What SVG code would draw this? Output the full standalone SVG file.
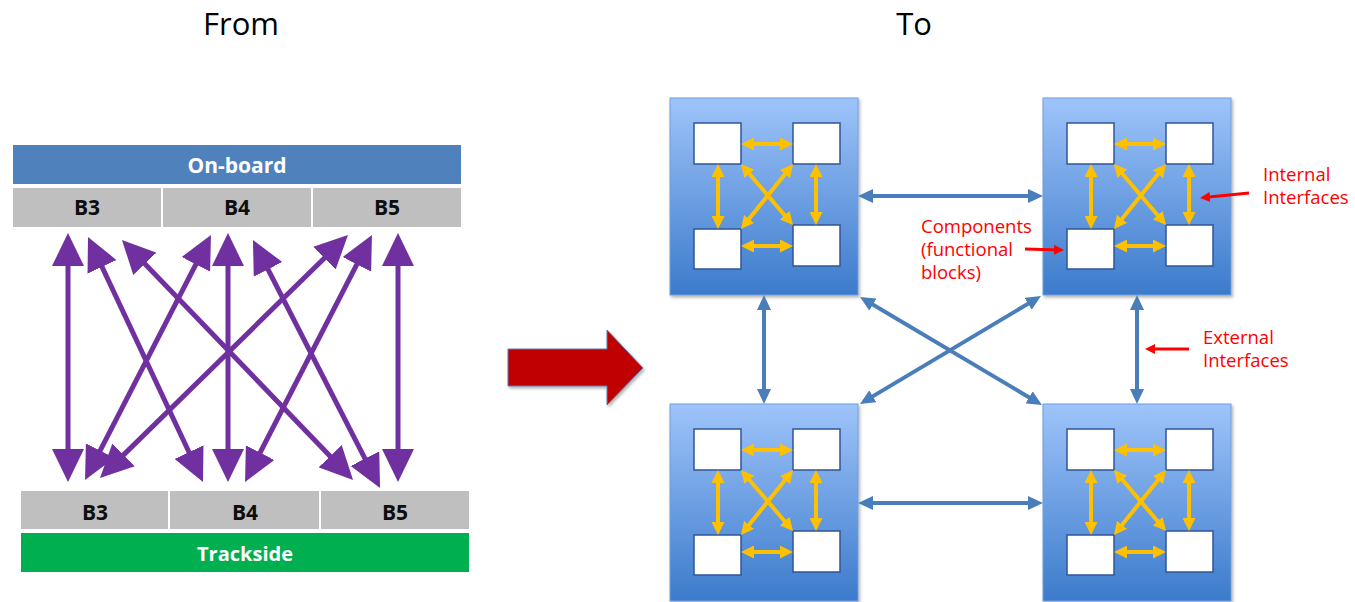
<svg xmlns="http://www.w3.org/2000/svg" width="1355" height="602" viewBox="0 0 1355 602">
  <style>
    .title { font-family: "Open Sans", "Liberation Sans", sans-serif; font-size: 31px; fill: #000; text-anchor: middle; }
    .hdr { font-family: "Open Sans", "Liberation Sans", sans-serif; font-size: 21px; font-weight: bold; fill: #fff; text-anchor: middle; }
    .cell { fill: #bfbfbf; }
    .celltxt { font-family: "Open Sans", "Liberation Sans", sans-serif; font-size: 21px; font-weight: bold; fill: #0d0d0d; text-anchor: middle; }
    .purple { stroke: #7030a0; stroke-width: 5; fill: none; marker-start: url(#pa); marker-end: url(#pa); }
    .box { fill: url(#boxgrad); stroke: #6f9edb; stroke-width: 1; filter: url(#shadow); }
    .sq { fill: #fff; stroke: #2f5597; stroke-width: 1.5; }
    .yel { stroke: #ffc000; stroke-width: 4; fill: none; marker-start: url(#ya); marker-end: url(#ya); }
    .blue { stroke: #4a7ebb; stroke-width: 4; fill: none; marker-start: url(#ba); marker-end: url(#ba); }
    .red { stroke: #ff0000; stroke-width: 3; fill: none; marker-end: url(#ra); }
    .lbl { font-family: "Open Sans", "Liberation Sans", sans-serif; font-size: 18.5px; fill: #ff0000; }
  </style>
  <defs>
    <linearGradient id="boxgrad" x1="0" y1="0" x2="0" y2="1">
      <stop offset="0" stop-color="#9ec4fa"/>
      <stop offset="1" stop-color="#3c7bcb"/>
    </linearGradient>
    <filter id="shadow" x="-10%" y="-10%" width="130%" height="130%">
      <feDropShadow dx="1.5" dy="2" stdDeviation="1.5" flood-color="#000" flood-opacity="0.3"/>
    </filter>
    <marker id="pa" viewBox="0 0 33 32" markerWidth="33" markerHeight="32" refX="25" refY="16" orient="auto-start-reverse" markerUnits="userSpaceOnUse">
      <path d="M0,0 L33,16 L0,32 Z" fill="#7030a0"/>
    </marker>
    <marker id="ba" viewBox="0 0 15 14" markerWidth="15" markerHeight="14" refX="10" refY="7" orient="auto-start-reverse" markerUnits="userSpaceOnUse">
      <path d="M0,0 L15,7 L0,14 Z" fill="#4a7ebb"/>
    </marker>
    <marker id="ya" viewBox="0 0 13 13" markerWidth="13" markerHeight="13" refX="8" refY="6.5" orient="auto-start-reverse" markerUnits="userSpaceOnUse">
      <path d="M0,0 L13,6.5 L0,13 Z" fill="#ffc000"/>
    </marker>
    <marker id="ra" viewBox="0 0 10 10" markerWidth="10" markerHeight="10" refX="6" refY="5" orient="auto" markerUnits="userSpaceOnUse">
      <path d="M0,0 L10,5 L0,10 Z" fill="#ff0000"/>
    </marker>
    <g id="inner">
      <rect class="sq" x="24" y="25" width="47" height="41"/>
      <rect class="sq" x="123" y="25" width="47" height="41"/>
      <rect class="sq" x="24" y="131" width="47" height="40"/>
      <rect class="sq" x="123" y="127" width="47" height="41"/>
      <line class="yel" x1="76" y1="46" x2="118" y2="46"/>
      <line class="yel" x1="76" y1="148" x2="118" y2="148"/>
      <line class="yel" x1="48" y1="71" x2="48" y2="126"/>
      <line class="yel" x1="146" y1="71" x2="146" y2="122"/>
      <line class="yel" x1="74.2" y1="69.8" x2="119.8" y2="123.2"/>
      <line class="yel" x1="119.9" y1="69.9" x2="74.1" y2="127.1"/>
    </g>
  </defs>

  <rect width="1355" height="602" fill="#fff"/>

  <text class="title" x="241" y="35">From</text>
  <text class="title" x="914" y="35">To</text>

  <!-- Left: From -->
  <g id="onboard">
    <rect x="13" y="145" width="448" height="39" fill="#4f81bd"/>
    <text class="hdr" x="237" y="173">On-board</text>
  </g>
  <g id="top-b3"><rect class="cell" x="13" y="188" width="148" height="39"/><text class="celltxt" x="87" y="215">B3</text></g>
  <g id="top-b4"><rect class="cell" x="163" y="188" width="148" height="39"/><text class="celltxt" x="237" y="215">B4</text></g>
  <g id="top-b5"><rect class="cell" x="313" y="188" width="148" height="39"/><text class="celltxt" x="387" y="215">B5</text></g>

  <g id="bot-b3"><rect class="cell" x="21" y="491" width="147" height="38"/><text class="celltxt" x="95" y="520">B3</text></g>
  <g id="bot-b4"><rect class="cell" x="170" y="491" width="149" height="38"/><text class="celltxt" x="245" y="520">B4</text></g>
  <g id="bot-b5"><rect class="cell" x="321" y="491" width="148" height="38"/><text class="celltxt" x="395" y="520">B5</text></g>
  <g id="trackside">
    <rect x="21" y="533" width="448" height="39" fill="#00b050"/>
    <text class="hdr" x="245" y="561" style="font-size:20px">Trackside</text>
  </g>

  <g id="purple-connectors">
    <line class="purple" x1="68" y1="241" x2="68" y2="474"/>
    <line class="purple" x1="228" y1="241" x2="228" y2="474"/>
    <line class="purple" x1="398" y1="241" x2="398" y2="474"/>
    <line class="purple" x1="91.4" y1="244.2" x2="199.6" y2="474.8"/>
    <line class="purple" x1="127.5" y1="245.8" x2="347.5" y2="474.2"/>
    <line class="purple" x1="207.3" y1="242.1" x2="88.7" y2="472.9"/>
    <line class="purple" x1="342.3" y1="240.6" x2="105.7" y2="472.4"/>
    <line class="purple" x1="368.3" y1="242.1" x2="248.7" y2="474.9"/>
    <line class="purple" x1="256.6" y1="247.1" x2="376.4" y2="480.9"/>
  </g>

  <!-- Big red arrow -->
  <g id="big-arrow" filter="url(#shadow)">
    <polygon points="508,349 607,349 607,330 643,368 607,405 607,386 508,386" fill="#c00000" stroke="#5b7fb5" stroke-width="1"/>
  </g>

  <!-- Right: To -->
  <g id="box-tl" transform="translate(670,98)">
    <rect class="box" x="0" y="0" width="188" height="197"/>
    <use href="#inner"/>
  </g>
  <g id="box-tr" transform="translate(1043,98)">
    <rect class="box" x="0" y="0" width="188" height="197"/>
    <use href="#inner"/>
  </g>
  <g id="box-bl" transform="translate(670,404)">
    <rect class="box" x="0" y="0" width="188" height="197"/>
    <use href="#inner"/>
  </g>
  <g id="box-br" transform="translate(1043,404)">
    <rect class="box" x="0" y="0" width="188" height="197"/>
    <use href="#inner"/>
  </g>

  <g id="external-connectors">
    <line class="blue" x1="863" y1="196" x2="1038" y2="196"/>
    <line class="blue" x1="863" y1="503" x2="1038" y2="503"/>
    <line class="blue" x1="764" y1="300" x2="764" y2="399"/>
    <line class="blue" x1="1137" y1="300" x2="1137" y2="399"/>
    <line class="blue" x1="864.3" y1="299.5" x2="1037.7" y2="402.5"/>
    <line class="blue" x1="1036.7" y1="298.6" x2="864.3" y2="401.4"/>
  </g>

  <g id="label-internal">
    <text class="lbl" x="1263" y="181">Internal</text>
    <text class="lbl" x="1263" y="204">Interfaces</text>
    <line class="red" x1="1249" y1="193" x2="1204" y2="197.5"/>
  </g>
  <g id="label-components">
    <text class="lbl" x="921" y="233">Components</text>
    <text class="lbl" x="921" y="256">(functional</text>
    <text class="lbl" x="921" y="279">blocks)</text>
    <line class="red" x1="1025" y1="249" x2="1060" y2="250"/>
  </g>
  <g id="label-external">
    <text class="lbl" x="1203" y="344">External</text>
    <text class="lbl" x="1203" y="367">Interfaces</text>
    <line class="red" x1="1189" y1="349" x2="1149" y2="349"/>
  </g>
</svg>
